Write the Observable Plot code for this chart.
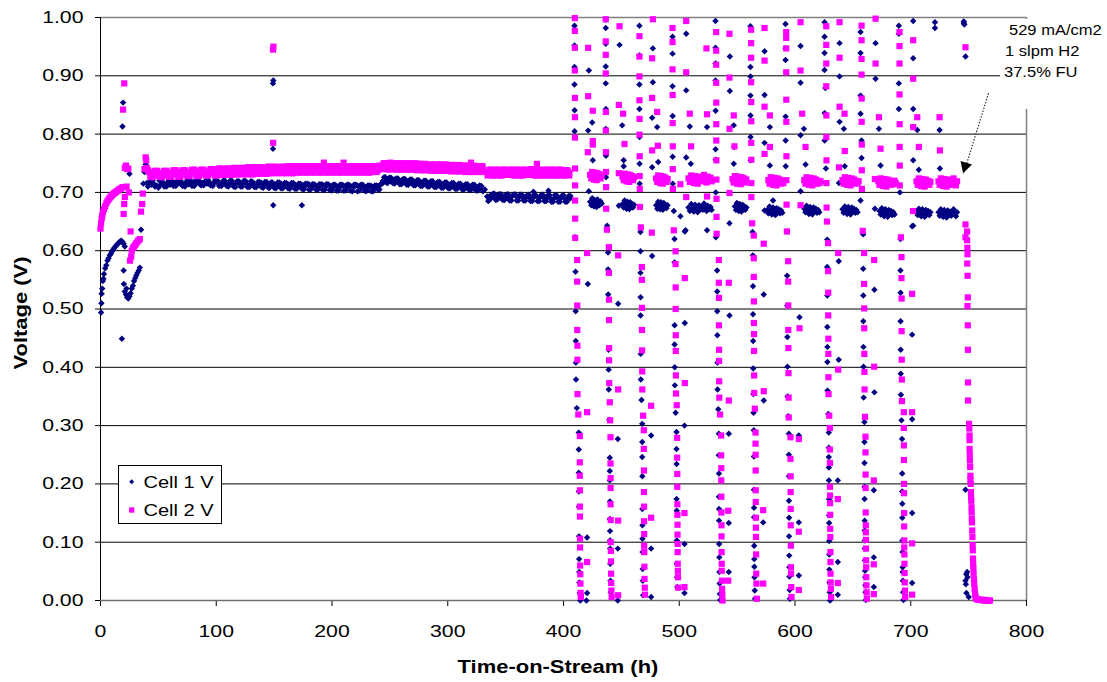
<!DOCTYPE html>
<html><head><meta charset="utf-8">
<script src="https://cdn.jsdelivr.net/npm/d3@7"></script>
<script src="https://cdn.jsdelivr.net/npm/@observablehq/plot@0.6"></script>
<style>
body{margin:0;background:#fff;}
#chart{position:relative;width:1107px;height:682px;}
#chart svg text{font-family:Arial,"Liberation Sans",sans-serif;fill:#000;}
</style></head><body><div id="chart"></div>
<script>
// ---------- data (hours, volts) ----------
const seriesNames = ["Cell 1 V", "Cell 2 V"];
const yTicks = [0,0.1,0.2,0.3,0.4,0.5,0.6,0.7,0.8,0.9,1.0];
const xTicks = [0,100,200,300,400,500,600,700,800];
const annotationLines = ["529 mA/cm2", "1 slpm H2", "37.5% FU"];
const arrowFrom = [767.2, 0.870];
const arrowTo = [745.6, 0.732];

const cell1Startup = [[0.5,.494],[0.8,.51],[1,.526],[1.5,.535],[2,.548],[2.5,.552],[3,.56],[4,.57],[5,.575],[6,.583],[7,.587],[8,.592],[9,.595],[10,.599],[11,.602],[12,.605],[13,.607],[14,.61],[15,.612],[16,.614],[17,.616],[18,.617],[19,.615],[20,.612],[21,.607],[18.5,.449],[19,.813],[19.5,.854],[20,.566],[20.2,.543],[21,.53],[22,.525],[23,.52],[24,.518],[25,.522],[22.5,.535],[24.5,.7],[25,.732],[26,.527],[27,.535],[28,.54],[29,.548],[30,.553],[31,.558],[32,.562],[33,.566],[34,.571],[35,.636],[36,.68],[37,.715],[38,.735],[39,.748]];

const cell2Startup = [[0,.638],[0.5,.647],[1,.655],[1.5,.66],[2,.666],[3,.671],[4,.676],[5,.681],[6,.685],[7,.688],[8,.691],[9,.693],[10,.695],[11,.697],[12,.699],[13,.7],[14,.702],[15,.703],[16,.705],[17,.706],[18,.707],[19,.709],[19.5,.842],[20.5,.887],[20,.663],[20.5,.68],[21,.692],[21,.742],[22,.746],[22.5,.71],[23,.74],[24,.741],[24.5,.7],[26,.633],[25.5,.583],[26.5,.59],[27,.6],[28,.605],[29,.607],[30,.61],[31,.613],[32,.616],[33,.618],[34,.62],[35,.667],[36,.68],[36.5,.698],[38,.74],[39,.76],[39.5,.755]];

const cell1Plateau = [[40,.716],[42,.714],[44,.713],[46,.715],[48,.712],[50,.708],[52,.713],[54,.715],[56,.714],[58,.716],[60,.713],[62,.715],[64,.717],[66,.714],[68,.716],[70,.713],[72,.715],[74,.717],[76,.714],[78,.716],[80,.718],[82,.715],[84,.717],[86,.714],[88,.716],[90,.718],[92,.715],[94,.717],[96,.714],[98,.716],[100,.718],[103,.715],[106,.717],[109,.714],[112,.716],[115,.713],[118,.716],[121,.714],[124,.717],[127,.713],[130,.715],[133,.712],[136,.714],[139,.716],[142,.713],[145,.715],[147,.712],[150,.714],[153,.711],[156,.715],[159,.712],[162,.714],[165,.711],[168,.713],[171,.71],[174,.713],[177,.711],[180,.714],[183,.71],[186,.712],[189,.709],[192,.713],[195,.71],[198,.712],[201,.708],[204,.711],[207,.709],[210,.712],[213,.708],[216,.711],[219,.709],[222,.712],[225,.708],[228,.71],[231,.707],[234,.711],[237,.708],[240,.711],[242,.713],[244,.72],[246,.723],[248,.721],[251,.719],[254,.722],[257,.718],[260,.72],[263,.717],[266,.719],[269,.716],[272,.718],[275,.715],[278,.717],[281,.714],[284,.716],[287,.713],[290,.715],[293,.712],[296,.714],[299,.711],[302,.713],[305,.71],[308,.712],[311,.709],[314,.711],[317,.708],[320,.71],[323,.707],[326,.709],[329,.706],[332,.705],[334,.693],[335,.685],[337,.695],[340,.692],[343,.694],[346,.691],[349,.693],[352,.69],[355,.692],[358,.695],[361,.691],[364,.693],[367,.69],[370,.692],[373,.689],[374,.701],[376,.694],[379,.69],[382,.692],[385,.689],[387,.703],[388,.691],[391,.688],[394,.692],[397,.689],[400,.691],[403,.688],[406,.69]];
const cell1PlateauEdge = [[41,.71],[45,.72],[49,.711],[53,.719],[57,.71],[61,.72],[65,.711],[69,.72],[73,.71],[77,.721],[81,.711],[85,.72],[89,.712],[93,.721],[97,.711],[101,.72],[104.5,.711],[107.5,.72],[110.5,.71],[113.5,.72],[116.5,.709],[119.5,.719],[122.5,.71],[125.5,.719],[128.5,.709],[131.5,.718],[134.5,.709],[137.5,.718],[140.5,.708],[143.5,.718],[146,.708],[148.5,.717],[151.5,.707],[154.5,.717],[157.5,.707],[160.5,.716],[163.5,.706],[166.5,.716],[169.5,.706],[172.5,.715],[175.5,.705],[178.5,.715],[181.5,.705],[184.5,.714],[187.5,.704],[190.5,.714],[193.5,.704],[196.5,.714],[199.5,.703],[202.5,.713],[205.5,.703],[208.5,.713],[211.5,.703],[214.5,.713],[217.5,.702],[220.5,.713],[223.5,.703],[226.5,.713],[229.5,.702],[232.5,.712],[235.5,.702],[238.5,.712],[241,.705],[243,.716],[245,.726],[247,.717],[249.5,.725],[252.5,.716],[255.5,.724],[258.5,.714],[261.5,.723],[264.5,.713],[267.5,.722],[270.5,.712],[273.5,.721],[276.5,.711],[279.5,.72],[282.5,.71],[285.5,.719],[288.5,.709],[291.5,.718],[294.5,.708],[297.5,.717],[300.5,.707],[303.5,.716],[306.5,.706],[309.5,.715],[312.5,.705],[315.5,.714],[318.5,.704],[321.5,.713],[324.5,.703],[327.5,.712],[330.5,.702],[336,.688],[338.5,.697],[341.5,.687],[344.5,.697],[347.5,.687],[350.5,.696],[353.5,.686],[356.5,.696],[359.5,.686],[362.5,.696],[365.5,.686],[368.5,.695],[371.5,.685],[374.5,.695],[377.5,.685],[380.5,.695],[383.5,.685],[386.5,.695],[389.5,.684],[392.5,.695],[395.5,.684],[398.5,.694],[401.5,.684],[404.5,.694]];
const cell1PlateauEdge2 = [[43,.719],[47,.71],[51,.72],[55,.71],[59,.72],[63,.711],[67,.72],[71,.711],[75,.721],[79,.711],[83,.721],[87,.712],[91,.72],[95,.712],[99,.721],[102.5,.711],[106,.72],[109,.711],[112,.72],[115,.71],[118,.719],[121,.71],[124,.72],[127,.709],[130,.719],[133,.709],[136,.718],[139,.709],[142,.718],[145,.708],[147.5,.717],[150,.708],[153,.717],[156,.707],[159,.716],[162,.707],[165,.716],[168,.706],[171,.715],[174,.706],[177,.715],[180,.705],[183,.714],[186,.705],[189,.714],[192,.704],[195,.714],[198,.704],[201,.713],[204,.703],[207,.713],[210,.703],[213,.713],[216,.703],[219,.713],[222,.702],[225,.713],[228,.703],[231,.712],[234,.702],[237,.712],[240,.704],[244,.716],[246,.726],[248,.716],[251,.725],[254,.715],[257,.724],[260,.714],[263,.723],[266,.713],[269,.722],[272,.712],[275,.721],[278,.711],[281,.72],[284,.71],[287,.719],[290,.709],[293,.718],[296,.708],[299,.717],[302,.707],[305,.716],[308,.706],[311,.715],[314,.705],[317,.714],[320,.704],[323,.713],[326,.703],[329,.711],[337,.689],[340,.698],[343,.688],[346,.697],[349,.687],[352,.697],[355,.686],[358,.697],[361,.686],[364,.696],[367,.686],[370,.696],[373,.685],[376,.695],[379,.685],[382,.696],[385,.685],[388,.695],[391,.684],[394,.695],[397,.684],[400,.695],[403,.684],[406,.694]];
const cell1Spikes = [[149,.887],[149.3,.892],[149,.775],[149.2,.678],[174,.678]];

const cell2Plateau = [[40,.742],[42,.735],[44,.731],[46,.73],[48,.732],[50,.729],[52,.731],[54,.733],[56,.73],[58,.732],[60,.734],[62,.731],[64,.733],[66,.735],[68,.732],[70,.734],[72,.731],[74,.733],[76,.735],[78,.732],[80,.734],[82,.736],[84,.733],[86,.735],[88,.732],[90,.734],[92,.736],[94,.733],[96,.735],[98,.737],[100,.734],[103,.736],[106,.733],[109,.735],[112,.737],[115,.734],[118,.736],[121,.738],[124,.735],[127,.737],[130,.734],[133,.736],[136,.738],[139,.735],[142,.737],[145,.739],[147,.736],[150,.738],[153,.735],[156,.737],[159,.739],[162,.736],[165,.738],[168,.741],[171,.737],[174,.739],[177,.736],[180,.738],[183,.74],[186,.737],[189,.739],[192,.736],[193,.751],[195,.738],[198,.74],[201,.737],[204,.739],[207,.736],[210,.751],[210,.738],[213,.74],[216,.737],[219,.739],[222,.736],[225,.738],[228,.74],[231,.737],[234,.739],[237,.741],[240,.738],[243,.744],[246,.747],[249,.745],[252,.743],[255,.746],[258,.744],[261,.742],[264,.745],[267,.743],[270,.746],[272,.75],[273,.744],[276,.742],[279,.745],[282,.743],[285,.741],[288,.744],[291,.742],[294,.745],[297,.743],[300,.741],[303,.744],[306,.742],[309,.74],[312,.743],[315,.741],[318,.739],[320,.751],[321,.742],[324,.74],[327,.738],[330,.741],[333,.736],[336,.733],[339,.735],[342,.737],[345,.734],[348,.736],[351,.733],[354,.735],[357,.737],[360,.734],[363,.736],[366,.733],[369,.735],[372,.737],[375,.734],[377,.749],[378,.736],[381,.733],[384,.735],[387,.737],[390,.734],[393,.732],[396,.735],[399,.733],[402,.731],[405,.734]];
const cell2PlateauEdge = [[41,.738],[45,.726],[49,.737],[53,.726],[57,.737],[61,.727],[65,.738],[69,.727],[73,.738],[77,.728],[81,.739],[85,.728],[89,.739],[93,.729],[97,.74],[101,.729],[104.5,.741],[107.5,.73],[110.5,.741],[113.5,.73],[116.5,.742],[119.5,.731],[122.5,.742],[125.5,.731],[128.5,.743],[131.5,.731],[134.5,.743],[137.5,.732],[140.5,.743],[143.5,.732],[146,.744],[148.5,.733],[151.5,.744],[154.5,.733],[157.5,.744],[160.5,.733],[163.5,.745],[166.5,.733],[169.5,.745],[172.5,.734],[175.5,.745],[178.5,.734],[181.5,.745],[184.5,.734],[187.5,.745],[190.5,.734],[193.5,.745],[196.5,.734],[199.5,.745],[202.5,.734],[205.5,.745],[208.5,.734],[211.5,.745],[214.5,.734],[217.5,.745],[220.5,.734],[223.5,.745],[226.5,.734],[229.5,.745],[232.5,.734],[235.5,.745],[238.5,.735],[241,.746],[244.5,.75],[247.5,.74],[250.5,.751],[253.5,.74],[256.5,.75],[259.5,.739],[262.5,.75],[265.5,.739],[268.5,.75],[271.5,.739],[274.5,.749],[277.5,.738],[280.5,.749],[283.5,.738],[286.5,.748],[289.5,.737],[292.5,.748],[295.5,.737],[298.5,.748],[301.5,.737],[304.5,.747],[307.5,.736],[310.5,.747],[313.5,.736],[316.5,.746],[319.5,.735],[322.5,.746],[325.5,.735],[328.5,.745],[331.5,.735],[334.5,.729],[337.5,.739],[340.5,.729],[343.5,.739],[346.5,.729],[349.5,.739],[352.5,.73],[355.5,.739],[358.5,.729],[361.5,.739],[364.5,.729],[367.5,.739],[370.5,.73],[373.5,.74],[376.5,.729],[379.5,.739],[382.5,.729],[385.5,.739],[388.5,.729],[391.5,.739],[394.5,.729],[397.5,.739],[400.5,.729],[403.5,.738]];
const cell2PlateauEdge2 = [[43,.727],[47,.737],[51,.727],[55,.737],[59,.727],[63,.738],[67,.727],[71,.738],[75,.728],[79,.739],[83,.728],[87,.739],[91,.729],[95,.74],[99,.729],[102.5,.741],[106,.73],[109,.741],[112,.73],[115,.742],[118,.731],[121,.742],[124,.731],[127,.743],[130,.731],[133,.743],[136,.732],[139,.743],[142,.732],[145,.744],[147.5,.733],[150,.744],[153,.733],[156,.744],[159,.733],[162,.745],[165,.733],[168,.745],[171,.734],[174,.745],[177,.734],[180,.745],[183,.734],[186,.745],[189,.734],[192,.745],[195,.734],[198,.745],[201,.734],[204,.745],[207,.734],[210,.745],[213,.734],[216,.745],[219,.734],[222,.745],[225,.734],[228,.745],[231,.734],[234,.745],[237,.735],[240,.745],[243,.74],[246,.75],[249,.739],[252,.75],[255,.739],[258,.75],[261,.739],[264,.75],[267,.739],[270,.749],[273,.738],[276,.749],[279,.738],[282,.748],[285,.737],[288,.748],[291,.737],[294,.748],[297,.737],[300,.747],[303,.736],[306,.747],[309,.736],[312,.746],[315,.735],[318,.746],[321,.735],[324,.745],[327,.735],[330,.745],[336,.739],[339,.729],[342,.739],[345,.729],[348,.739],[351,.73],[354,.739],[357,.729],[360,.739],[363,.729],[366,.739],[369,.73],[372,.74],[375,.729],[378,.739],[381,.729],[384,.739],[387,.729],[390,.739],[393,.729],[396,.739],[399,.729],[402,.738],[405,.729]];
const cell2Spikes = [[149,.945],[149.4,.95],[149.2,.785]];

const cell1Cycles = [
[409.5,.986],[409.5,.952],[409.5,.915],[409.5,.885],[409.6,.841],[409.6,.805],[409.8,.623],[410.4,.564],[410.5,.496],[410.6,.445],[410.7,.408],[410.8,.379],[411.5,.33],[413.2,.288],[413.2,.259],[413.2,.219],[413.3,.187],[413.3,.161],[413.4,.11],[413.5,.071],[413.6,.049],[413.7,.031],[414,.013],[414.5,.0],
[420.4,.108],[420.4,.013],[419.8,.0],[421,.543],[421.9,.909],[421.3,.806],[424.8,.82],[425.3,.755],[421.9,.702],
[436.5,.996],[436.5,.982],[436.5,.955],[436.5,.916],[436.5,.887],[436.6,.843],[436.6,.809],[436.7,.763],[436.7,.726],[437.7,.643],[438.5,.597],[438.5,.568],[438.6,.525],[438.9,.43],[439,.396],[439.1,.362],[439.5,.31],[440,.245],[440,.222],[440,.206],[440.1,.17],[440.1,.14],[440.2,.119],[440.2,.103],[440.3,.089],[440.4,.063],[440.6,.034],[440.8,.014],
[446.9,.277],[446.9,.089],[446.9,.0],[447.2,.509],[448.4,.953],[450.7,.815],[452,.755],[452,.745],[447.8,.677],
[465.6,.986],[465.6,.935],[465.6,.885],[465.6,.843],[465.7,.795],[465.7,.749],[465.8,.715],[466.5,.632],[466.5,.599],[466.5,.562],[466.6,.52],[466.6,.489],[466.7,.423],[466.8,.379],[467.4,.344],[468,.303],[468,.272],[468,.246],[468.1,.213],[468.1,.157],[468.2,.129],[468.2,.106],[468.3,.083],[468.4,.054],[468.5,.034],[468.8,.009],
[475.7,.283],[475.7,.089],[475.7,.006],[476.6,.591],[477.2,.947],[477.2,.889],[476.6,.828],[476.6,.743],[480.9,.812],[481.8,.752],
[494.2,.967],[494.2,.938],[494.2,.882],[494.3,.831],[494.3,.761],[494.4,.715],[495.3,.668],[495.9,.62],[495.9,.58],[496,.472],[496,.439],[496.1,.4],[496.2,.369],[496.9,.322],[497.6,.289],[497.6,.26],[497.7,.234],[497.7,.174],[497.8,.154],[497.9,.103],[498,.063],[498.1,.04],[498.3,.023],
[501,.659],[504.5,.3],[504.5,.097],[504.5,.013],[504.8,.633],[504.8,.476],[506,.972],[506,.875],[509.1,.813],[506,.76],[510,.749],[505.4,.635],
[531.3,.994],[531.3,.948],[531.3,.921],[531.3,.892],[531.4,.84],[531.4,.774],[531.5,.756],[531.5,.7],[531.6,.623],[532.7,.566],[532.8,.53],[532.8,.496],[532.9,.455],[533,.408],[533.1,.362],[533.7,.328],[534.2,.286],[534.2,.249],[534.3,.218],[534.3,.178],[534.4,.157],[534.4,.137],[534.5,.097],[534.6,.074],[534.7,.049],[534.9,.029],[535.1,.011],[535.4,.001],
[542.8,.286],[542.8,.133],[542.8,.049],[543.4,.647],[543.4,.489],[543.7,.933],[543.7,.874],[547.1,.815],[547.5,.778],[547.1,.749],[524,.812],[524,.635],
[561.5,.985],[561.5,.915],[561.5,.899],[561.5,.866],[561.6,.832],[561.6,.795],[561.7,.755],[563.3,.632],[563.6,.592],[563.7,.539],[563.7,.491],[563.8,.445],[563.9,.398],[564,.354],[564.2,.322],[564.4,.292],[564.5,.247],[564.5,.19],[564.6,.159],[564.6,.143],[564.7,.094],[564.8,.071],[564.9,.058],[565,.04],[565.2,.017],[565.5,.003],
[572.5,.134],[573,.343],[573,.525],[573.7,.942],[573.7,.867],[573.7,.785],[578.3,.812],[578.3,.746],[573.7,.669],[581,.686],
[591.8,.989],[591.8,.947],[591.8,.927],[591.9,.83],[591.9,.789],[592,.745],[593.2,.633],[593.2,.557],[593.3,.506],[593.4,.452],[593.5,.401],[593.6,.35],[594.2,.316],[594.7,.286],[594.7,.25],[594.8,.213],[594.8,.171],[594.9,.142],[594.9,.11],[595,.077],[595.1,.057],[595.2,.041],[595.4,.018],[595.6,.003],
[603.3,.283],[603.3,.134],[603.3,.043],[603.9,.486],[604.8,.951],[604.8,.888],[604.8,.798],[607.7,.809],[609.1,.748],[604.8,.702],
[625.5,.992],[625.5,.967],[625.5,.939],[625.5,.91],[626.2,.879],[625.6,.836],[625.6,.789],[626.7,.741],[626.2,.716],[627.8,.619],[627.8,.572],[627.9,.523],[627.9,.469],[628,.435],[628,.409],[628.1,.36],[628.7,.32],[629.2,.288],[629.2,.262],[629.2,.246],[629.3,.228],[629.3,.206],[629.4,.174],[629.4,.146],[629.5,.133],[629.5,.102],[629.6,.079],[629.7,.053],[629.8,.031],[630,.014],[630.3,.0],
[637,.206],[637,.066],[637,.01],[637.8,.582],[637.8,.413],[638.5,.956],[638.5,.899],[638.5,.821],[642.2,.809],[643,.745],[638,.716],
[656.6,.975],[656.6,.939],[656.6,.866],[656.6,.835],[657.5,.789],[657.5,.759],[656.6,.686],[658.9,.628],[658.9,.569],[659,.523],[659,.479],[659.1,.435],[659.2,.401],[659.3,.348],[660,.306],[660,.272],[660,.236],[660.1,.195],[660.1,.174],[660.2,.137],[660.2,.12],[660.3,.103],[660.3,.089],[660.4,.069],[660.5,.051],[660.6,.04],[660.7,.026],[660.9,.014],[661.2,.001],
[668.1,.189],[668.1,.074],[668.1,.023],[668.6,.533],[668.6,.357],[669.6,.956],[669.6,.895],[672.5,.809],[673.9,.746],[669,.672],
[689.7,.986],[689.7,.972],[689.7,.887],[689.7,.843],[690.6,.7],[691.1,.62],[691.1,.566],[691.2,.528],[691.2,.479],[691.3,.43],[691.4,.389],[691.5,.353],[692,.309],[692.5,.277],[692.6,.218],[692.6,.187],[692.7,.166],[692.7,.142],[692.8,.103],[692.9,.083],[693,.057],[693,.049],[693.2,.034],[693.4,.014],[693.7,.001],
[701.2,.642],[701.2,.456],[701.2,.311],[701.2,.15],[701.2,.03],[702.1,.994],[702.1,.93],[702.1,.843],[702.1,.755],[705.6,.807],[707,.739],[702.1,.643],
[720.9,.992],[720.9,.982],[724.9,.807],[725.2,.741],
[745.9,.99],[745.8,.993],[746.3,.988],[747.3,.933],[747.3,.19],[748.7,.049],[748,.045],[749,.04],[747.3,.034],[747.6,.028],[748.1,.013],[750.1,.006]];

const cell1Blobs = [
[423,.684],[424,.678],[424.8,.69],[425.5,.682],[426.3,.676],[427,.687],[427.8,.681],[428.6,.675],[429.3,.688],[430,.683],[431,.678],[432,.685],[433,.681],
[451,.68],[452,.674],[452.8,.686],[453.6,.678],[454.4,.672],[455.2,.684],[456,.677],[456.8,.671],[457.6,.683],[458.4,.676],[459.2,.68],[460,.674],[461,.679],
[480,.678],[481,.672],[481.8,.684],[482.6,.677],[483.4,.671],[484.2,.683],[485,.676],[485.8,.67],[486.6,.682],[487.4,.675],[488.2,.679],[489,.673],[490,.678],
[508,.674],[509.2,.668],[510.4,.68],[511.5,.673],[512.6,.667],[513.7,.679],[514.8,.672],[515.9,.666],[517,.678],[518.1,.671],[519.2,.676],[520.3,.67],[521.4,.681],[522.5,.674],[523.6,.668],[524.7,.677],[525.8,.671],[527,.675],[528,.67],
[548,.676],[549,.67],[549.8,.682],[550.6,.674],[551.4,.668],[552.2,.68],[553,.673],[553.8,.667],[554.6,.679],[555.4,.672],[556.2,.676],[557,.67],[558,.674],
[576,.67],[577,.664],[578,.676],[579,.668],[580,.662],[581,.674],[582,.667],[583,.661],[584,.673],[585,.666],[586,.671],[587,.664],[588,.669],[589,.665],
[608,.672],[609,.666],[610,.677],[611,.669],[612,.663],[613,.675],[614,.668],[615,.662],[616,.674],[617,.667],[618,.672],[619,.665],[620,.67],[621,.666],
[641,.671],[642,.665],[643,.676],[644,.669],[645,.663],[646,.675],[647,.668],[648,.662],[649,.674],[650,.667],[651,.672],[652,.665],[653,.67],[654,.666],
[673,.668],[674,.662],[675,.673],[676,.665],[677,.659],[678,.671],[679,.664],[680,.658],[681,.67],[682,.663],[683,.668],[684,.661],[685,.666],[686,.662],
[705,.667],[706,.661],[707,.672],[708,.665],[709,.659],[710,.671],[711,.664],[712,.658],[713,.67],[714,.663],[715,.668],[716,.661],[717,.666],
[724,.666],[725,.66],[726,.671],[727,.664],[728,.658],[729,.67],[730,.663],[731,.657],[732,.669],[733,.662],[734,.667],[735,.66],[736,.665],[737,.671],[738,.664],[739,.659],[740,.666]];

const cell2Cycles = [
[409.8,.999],[409.8,.977],[409.8,.948],[409.8,.909],[409.9,.862],[409.9,.829],[409.9,.794],[410,.741],[410,.712],[410,.686],[410.1,.655],[410.1,.622],[411.8,.584],[411.8,.547],[411.9,.506],[411.9,.464],[412,.437],[412,.413],[412.1,.354],[412.8,.319],[414.1,.282],[414.1,.237],[414.1,.214],[414.2,.189],[414.2,.161],[414.2,.144],[414.3,.106],[414.3,.091],[414.4,.06],[414.5,.045],[414.6,.029],[414.8,.013],[415,.006],
[421.3,.948],[421.3,.865],[425.3,.84],[425.3,.788],[425.3,.782],[421,.769],[420.4,.596],[420.4,.323],[420.4,.066],
[436.5,.997],[436.5,.959],[436.5,.936],[436.5,.904],[436.6,.838],[436.6,.806],[436.7,.769],[436.7,.735],[436.8,.709],[436.9,.672],[437.5,.636],[439.2,.606],[439.2,.562],[439.3,.516],[439.3,.481],[439.4,.433],[439.4,.412],[439.5,.373],[440,.34],[440.3,.309],[440.6,.28],[440.6,.235],[440.7,.21],[440.7,.193],[440.7,.165],[440.8,.138],[440.8,.1],[440.9,.085],[441,.067],[441.1,.046],[441.2,.03],[441.4,.017],[441.6,.006],
[447.2,.137],[447.2,.009],[447.2,.592],[447.2,.362],[448.4,.985],[447.8,.85],[447.8,.733],[451.5,.835],[452.7,.783],
[465.6,.968],[465.6,.933],[465.6,.899],[465.6,.858],[465.7,.826],[465.7,.799],[465.8,.762],[465.8,.728],[465.9,.706],[466,.675],[466.8,.64],[467.7,.572],[467.7,.55],[467.8,.502],[467.8,.464],[467.9,.429],[468,.393],[468.1,.362],[468.8,.317],[469.4,.292],[469.4,.26],[469.5,.223],[469.5,.186],[469.6,.161],[469.6,.136],[469.7,.114],[469.7,.094],[469.8,.083],[469.9,.058],[470,.037],[470.2,.022],[470.4,.01],
[475.7,.334],[475.7,.142],[476.3,.631],[477.2,.997],[476.6,.93],[476.6,.862],[476.6,.772],[480.9,.838],[481.5,.78],
[494.2,.982],[494.2,.958],[494.2,.911],[494.3,.867],[494.3,.819],[494.4,.779],[494.4,.74],[494.5,.706],[495.3,.635],[496.8,.599],[496.8,.577],[496.9,.537],[496.9,.5],[497,.455],[497,.428],[497.1,.386],[497.2,.355],[497.8,.335],[498.2,.279],[498.2,.245],[498.3,.217],[498.3,.195],[498.4,.165],[498.4,.147],[498.5,.13],[498.5,.113],[498.6,.097],[498.6,.083],[498.7,.063],[498.8,.051],[498.9,.04],[499.1,.022],
[504.5,.15],[504.5,.023],[504.8,.553],[504.8,.373],[506,.994],[506,.906],[506,.692],[509.1,.835],[510.2,.779],[501,.714],[523.5,.947],[524,.834],[524,.693],
[531.9,.975],[531.9,.943],[531.9,.919],[531.9,.888],[532,.854],[532,.817],[532,.789],[532.1,.755],[532.1,.722],[532.2,.689],[532.2,.658],[532.3,.629],[534.2,.584],[534.2,.545],[534.3,.519],[534.3,.472],[534.4,.43],[534.4,.411],[534.5,.376],[534.6,.348],[535.3,.319],[536.2,.283],[536.2,.249],[536.3,.227],[536.3,.206],[536.4,.178],[536.4,.151],[536.5,.129],[536.5,.11],[536.6,.083],[536.7,.063],[536.7,.051],[536.9,.034],[537,.02],[537.2,.01],[537.4,.0],
[542.3,.154],[542.3,.034],[542.8,.545],[542.8,.343],[543.4,.972],[543.4,.897],[543.4,.809],[543.4,.699],[547.1,.832],[547.7,.779],
[562.1,.979],[562.1,.956],[562.1,.931],[562.1,.889],[562.2,.855],[562.2,.822],[562.2,.785],[562.3,.756],[562.3,.716],[562.3,.692],[563,.647],[564.4,.626],[564.4,.587],[564.4,.555],[564.5,.513],[564.5,.476],[564.6,.457],[564.6,.428],[564.7,.386],[564.8,.356],[565.3,.329],[565.9,.288],[565.9,.269],[566,.25],[566,.223],[566.1,.189],[566.1,.169],[566.2,.142],[566.2,.125],[566.3,.109],[566.4,.079],[566.5,.046],[566.7,.029],[567,.003],
[572.5,.155],[572.5,.029],[573,.612],[573,.359],[573.7,.982],[573.7,.926],[573.7,.847],[573.7,.766],[578.3,.832],[578.3,.778],
[592.4,.975],[592.4,.965],[592.4,.947],[592.4,.906],[592.5,.859],[592.5,.821],[592.6,.762],[592.6,.721],[592.7,.679],[593,.633],[594.1,.582],[594.1,.547],[594.2,.506],[594.2,.464],[594.3,.433],[594.4,.39],[594.5,.348],[594.6,.314],[596.1,.28],[596.1,.243],[596.2,.213],[596.2,.186],[596.3,.157],[596.3,.129],[596.4,.094],[596.5,.057],[596.6,.046],[596.8,.023],[597,.006],
[603.3,.277],[603.3,.118],[603.3,.018],[603.9,.467],[604.8,.992],[604.8,.909],[606.2,.835],[609.1,.778],[604.8,.678],
[627,.985],[627,.953],[627,.921],[627,.882],[627.1,.832],[627.1,.795],[627.2,.755],[627.2,.716],[627.3,.674],[627.6,.65],[628.6,.613],[628.6,.565],[628.7,.528],[628.7,.489],[628.8,.449],[628.8,.423],[628.9,.383],[629,.354],[629.6,.317],[630.1,.296],[630.1,.259],[630.2,.236],[630.2,.195],[630.3,.18],[630.3,.167],[630.4,.147],[630.4,.123],[630.5,.109],[630.6,.083],[630.6,.066],[630.7,.046],[630.8,.031],[631,.02],[631.2,.006],
[637,.174],[637,.03],[637.3,.596],[637.3,.396],[638.5,.992],[638.5,.931],[638.5,.847],[642.8,.835],[643,.771],[638,.743],
[657.5,.986],[657.5,.961],[657.5,.929],[657.5,.902],[657.6,.861],[657.6,.821],[657.7,.782],[657.7,.738],[657.8,.706],[658.5,.634],[659.7,.596],[659.7,.543],[659.8,.501],[659.8,.467],[659.9,.423],[660,.392],[660.1,.362],[660.5,.315],[660.9,.281],[660.9,.254],[661,.216],[661,.193],[661.1,.151],[661.2,.129],[661.2,.117],[661.3,.104],[661.3,.089],[661.4,.069],[661.5,.057],[661.6,.04],[661.7,.026],[661.9,.014],[662.1,.003],
[668.1,.206],[668.1,.062],[668.1,.011],[668.4,.584],[668.4,.401],[669.6,.998],[669.6,.921],[672.5,.829],[673.9,.775],[669,.723],
[690.3,.975],[690.3,.951],[690.3,.921],[690.3,.868],[690.4,.817],[690.4,.778],[690.5,.746],[690.5,.712],[691.5,.623],[692,.589],[692,.553],[692.1,.518],[692.1,.462],[692.2,.413],[692.3,.379],[692.4,.342],[694,.323],[694,.296],[694.1,.266],[694.1,.241],[694.2,.2],[694.2,.184],[694.3,.15],[694.3,.127],[694.4,.103],[694.4,.091],[694.5,.079],[694.6,.063],[694.7,.047],[694.8,.031],[695,.017],[695.2,.006],
[701.2,.323],[701.2,.098],[701.2,.01],[701.2,.526],[702.1,.961],[702.1,.895],[702.1,.812],[705.6,.829],[707,.778],[702,.668],[724.9,.829],[725.2,.772],
[747.3,.949],[747.3,.645],[747.3,.623],[748.7,.633],[748.7,.618],[748.9,.605],[749,.594],[748.8,.578],[749.1,.557],[749.3,.52],[749,.505],[749.3,.472],[749.4,.43],[749.5,.374],[749.5,.343],[750.4,.303],[750.6,.295],[750.8,.283],[750.8,.275],[750.8,.26],[751,.25],[751.1,.24],[751.3,.229],[751.5,.214],[751.6,.207],[751.8,.2],[752,.186],[752.1,.178],[752.3,.171],[752.5,.16],[752.6,.151],[752.8,.14],[752.9,.134],[753.1,.12],[753.3,.109],[753.5,.095],[753.6,.086],[753.8,.072],[753.9,.063],[754.1,.055],[754.3,.046],[754.6,.037],[754.8,.029],[755.2,.02],[755.6,.011],[756,.006],[756.5,.003],[757.3,.002],[758,.002],[759,.001],[760,.001],[761,.001],[762,.0],[763,.001],[764,.001],[765,.0],[766,.0],[767,.0],[768.5,.0]];

const cell2Blobs = [
[423,.73],[424,.724],[424.8,.735],[425.5,.728],[426.3,.722],[427,.734],[427.8,.727],[428.6,.721],[429.3,.733],[430,.726],[431,.731],[432,.724],[433,.729],
[451,.727],[452,.721],[452.8,.732],[453.6,.725],[454.4,.719],[455.2,.731],[456,.724],[456.8,.718],[457.6,.73],[458.4,.723],[459.2,.728],[460,.721],[461,.726],
[480,.724],[481,.718],[481.8,.729],[482.6,.722],[483.4,.716],[484.2,.728],[485,.721],[485.8,.715],[486.6,.727],[487.4,.72],[488.2,.725],[489,.718],[490,.723],
[508,.724],[509.2,.718],[510.4,.729],[511.5,.722],[512.6,.716],[513.7,.728],[514.8,.721],[515.9,.715],[517,.727],[518.1,.72],[519.2,.726],[520.3,.719],[521.4,.73],[522.5,.723],[523.6,.717],[524.7,.727],[525.8,.72],[527,.725],[528,.719],
[546,.723],[547,.717],[548,.728],[549,.721],[550,.715],[551,.727],[552,.72],[553,.714],[554,.726],[555,.719],[556,.724],[557,.717],[558,.722],
[577,.721],[578,.715],[579,.726],[580,.719],[581,.713],[582,.725],[583,.718],[584,.712],[585,.724],[586,.717],[587,.722],[588,.715],[589,.72],[590,.716],
[608,.721],[609,.715],[610,.726],[611,.719],[612,.713],[613,.725],[614,.718],[615,.712],[616,.724],[617,.717],[618,.722],[619,.715],[620,.72],[621,.716],[622,.719],
[641,.721],[642,.715],[643,.726],[644,.719],[645,.713],[646,.725],[647,.718],[648,.712],[649,.724],[650,.717],[651,.722],[652,.715],[653,.72],[654,.716],[655,.719],
[672,.719],[673,.713],[674,.724],[675,.717],[676,.711],[677,.723],[678,.716],[679,.71],[680,.722],[681,.715],[682,.72],[683,.713],[684,.718],[685,.714],[686,.72],[687,.716],
[705,.719],[706,.713],[707,.724],[708,.717],[709,.711],[710,.723],[711,.716],[712,.71],[713,.722],[714,.715],[715,.72],[716,.713],[717,.718],
[724,.719],[725,.713],[726,.724],[727,.717],[728,.711],[729,.723],[730,.716],[731,.71],[732,.722],[733,.715],[734,.72],[735,.713],[736,.718],[737,.724],[738,.717],[739,.712],[740,.719]];

// ---------- build ----------
const toRows = arr => arr.map(([h, v]) => ({h, v}));
const cell1 = toRows([...cell1Startup, ...cell1Plateau, ...cell1PlateauEdge, ...cell1PlateauEdge2, ...cell1Spikes, ...cell1Cycles, ...cell1Blobs]);
const cell2 = toRows([...cell2Startup, ...cell2Plateau, ...cell2PlateauEdge, ...cell2PlateauEdge2, ...cell2Spikes, ...cell2Cycles, ...cell2Blobs]);
const navy = "#000080", magenta = "#FF00FF";

const plot = Plot.plot({
  width: 1107, height: 682,
  marginLeft: 100, marginRight: 81, marginTop: 17, marginBottom: 82,
  style: {fontFamily: "Arial, 'Liberation Sans', sans-serif", fontSize: "17px", background: "#fff", color: "#000"},
  x: {domain: [0, 800], ticks: xTicks, tickFormat: d => String(d), tickSize: 6, tickPadding: 18, label: null},
  y: {domain: [0, 1], ticks: yTicks, tickFormat: d3.format(".2f"), tickSize: 5, tickPadding: 12, label: null},
  marks: [
    Plot.ruleY(yTicks.filter(t => t > 0 && t < 1), {stroke: "#000", strokeWidth: 1}),
    Plot.ruleY([1], {stroke: "#808080", strokeWidth: 1.5}),
    Plot.ruleX([800], {stroke: "#808080", strokeWidth: 1.5}),
    Plot.ruleX([0], {stroke: "#000", strokeWidth: 1}),
    Plot.ruleY([0], {stroke: "#6e6e6e", strokeWidth: 1.5}),
    Plot.dot(cell1, {x: "h", y: "v", symbol: "diamond2", r: 2.9, fill: navy}),
    Plot.dot(cell2, {x: "h", y: "v", symbol: "square", r: 3.5, fill: magenta}),
    Plot.link([{x1: arrowFrom[0], y1: arrowFrom[1], x2: arrowTo[0], y2: arrowTo[1]}],
      {x1: "x1", y1: "y1", x2: "x2", y2: "y2", stroke: "#333", strokeWidth: 1.2, strokeDasharray: "1.5,1.5"})
  ]
});
document.getElementById("chart").appendChild(plot);

// stretch helper (reference text is horizontally widened); scales about each label's anchor
function stretch(nodes, sx) {
  nodes.forEach(t => {
    const tr = t.getAttribute("transform") || "";
    const xa = t.getAttribute("x");
    let x = 0;
    if (xa && !/em$/.test(xa) && !/\s/.test(xa.trim())) { x = parseFloat(xa) || 0; t.removeAttribute("x"); }
    t.setAttribute("transform", `${tr} translate(${x},0) scale(${sx},1)`);
  });
}
stretch(plot.querySelectorAll('[aria-label^="y-axis"] text, [aria-label^="x-axis"] text'), 1.25);

const sx = plot.scale("x"), sy = plot.scale("y");
const fx = d3.scaleLinear(sx.domain, sx.range), fy = d3.scaleLinear(sy.domain, sy.range);
const svg = d3.select(plot);

// arrow head
{
  const tx = fx(arrowTo[0]), ty = fy(arrowTo[1]);
  const dx = tx - fx(arrowFrom[0]), dy = ty - fy(arrowFrom[1]);
  const L = Math.hypot(dx, dy), ux = dx / L, uy = dy / L;
  const len = 11, hw = 6;
  const bx = tx - ux * len, by = ty - uy * len;
  svg.append("polygon")
    .attr("points", `${tx},${ty} ${bx - uy * hw},${by + ux * hw} ${bx + uy * hw},${by - ux * hw}`)
    .attr("fill", "#000");
}

// annotation box
svg.append("rect").attr("x", 1000).attr("y", 19).attr("width", 107).attr("height", 90).attr("fill", "#fff");
const annX = [1009, 1005, 1004], annY = [35, 56, 76.5];
annotationLines.forEach((s, i) => {
  svg.append("text").attr("transform", `translate(${annX[i]},${annY[i]}) scale(1.14,1)`)
    .attr("text-anchor", "start").attr("font-size", 14.5).text(s);
});

// legend
const lg = svg.append("g");
lg.append("rect").attr("x", 118.5).attr("y", 465.5).attr("width", 103).attr("height", 58)
  .attr("fill", "#fff").attr("stroke", "#000").attr("stroke-width", 1);
lg.append("path").attr("d", d3.symbol(d3.symbolDiamond2, 16)()).attr("transform", "translate(131.7,481.7)").attr("fill", navy);
lg.append("path").attr("d", d3.symbol(d3.symbolSquare, 28)()).attr("transform", "translate(131.7,510)").attr("fill", magenta);
seriesNames.forEach((s, i) => {
  lg.append("text").attr("transform", `translate(143.5,${[487.5, 516][i]}) scale(1.18,1)`)
    .attr("text-anchor", "start").attr("font-size", 17).text(s);
});

// axis titles
svg.append("text").attr("transform", "translate(558,673) scale(1.22,1)")
  .attr("text-anchor", "middle").attr("font-size", 18).attr("font-weight", "bold").text("Time-on-Stream (h)");
svg.append("text").attr("transform", "translate(27,313) rotate(-90) scale(1.22,1)")
  .attr("text-anchor", "middle").attr("font-size", 18).attr("font-weight", "bold").text("Voltage (V)");
</script></body></html>
